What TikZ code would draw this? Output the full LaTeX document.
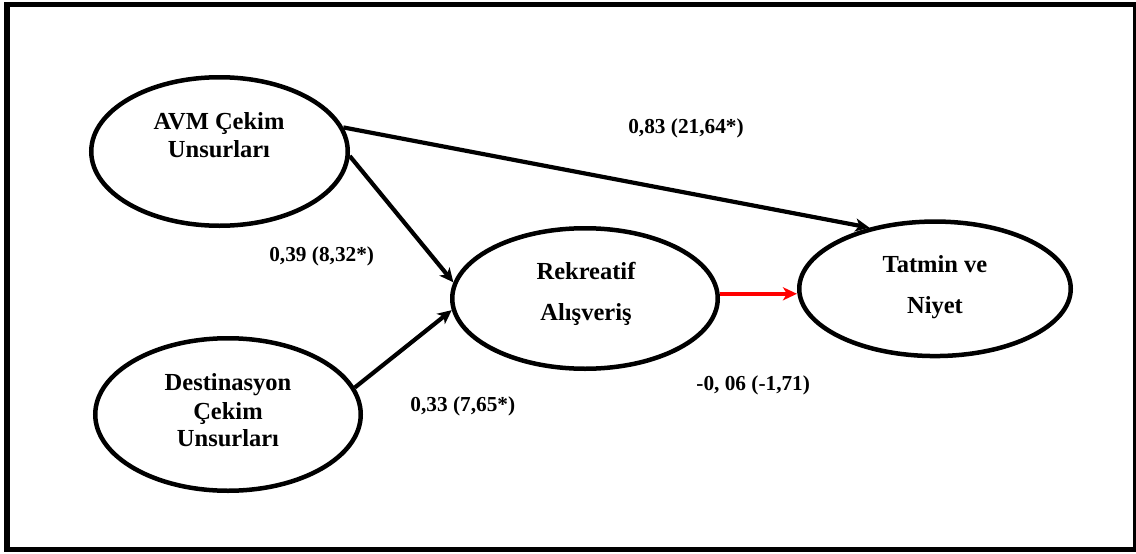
\documentclass[tikz,border=0pt]{standalone}
\usepackage{fontspec}
\setmainfont{Liberation Serif}
\usetikzlibrary{shapes.geometric,arrows.meta}
\tikzset{
  construct/.style={draw, ellipse, line width=4.5pt, inner sep=0pt},
  nametext/.style={anchor=base, inner sep=0pt, font=\fontsize{24.5}{29}\selectfont\bfseries},
  coeftext/.style={anchor=base, inner sep=0pt, font=\fontsize{21.3}{26}\selectfont\bfseries},
  path/.style={line width=4.2pt, -{Stealth[length=14pt,width=13pt,inset=3.8pt]}},
  weakpath/.style={path, draw=red},
}
\begin{document}
\begin{tikzpicture}[x=1pt, y=-1pt]
  \useasboundingbox (0,0) rectangle (1136,554);
  \draw[line width=5.5pt] (7,4.5) rectangle (1135.5,549.5);

  % latent constructs
  \node[construct, minimum width=256.5pt, minimum height=148.5pt] (avm) at (219.5,151.5) {};
  \node[construct, minimum width=265.5pt, minimum height=152.5pt] (dest) at (228,414.5) {};
  \node[construct, minimum width=265.5pt, minimum height=140.5pt] (rek) at (585,298.5) {};
  \node[construct, minimum width=271.5pt, minimum height=134.5pt] (tat) at (935,288.8) {};

  % construct names
  \node[nametext] (avmA) at (219,129.5) {AVM Çekim};
  \node[nametext] (avmB) at (219,157) {Unsurları};
  \node[nametext] (destA) at (228,390.5) {Destinasyon};
  \node[nametext] (destB) at (228,419) {Çekim};
  \node[nametext] (destC) at (228,446) {Unsurları};
  \node[nametext] (rekA) at (586,279) {Rekreatif};
  \node[nametext] (rekB) at (586,320) {Alışveriş};
  \node[nametext] (tatA) at (935,272.3) {Tatmin ve};
  \node[nametext] (tatB) at (935,313.3) {Niyet};

  % structural paths
  \draw[path] (avm.11) -- (tat.137.8);
  \draw[path] (avm.-2.9) -- (rek.173);
  \draw[path] (dest.12.2) -- (rek.185.3);
  \draw[weakpath] (rek.2.3) -- (rek.2.3 -| tat.west);

  % path coefficients
  \node[coeftext] (c1) at (686,133.3) {0,83 (21,64*)};
  \node[coeftext] (c2) at (321.7,261) {0,39 (8,32*)};
  \node[coeftext] (c3) at (462.8,411.7) {0,33 (7,65*)};
  \node[coeftext] (c4) at (753.2,390.5) {-0, 06 (-1,71)};
\end{tikzpicture}
\end{document}
